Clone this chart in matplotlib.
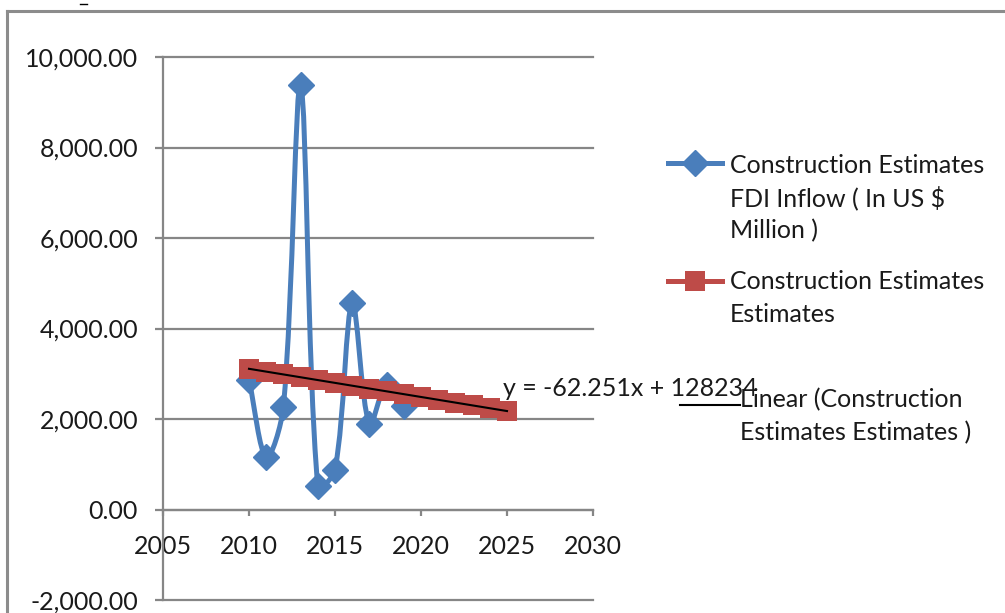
import numpy as np
import matplotlib.pyplot as plt
from matplotlib.path import Path
from matplotlib.patches import PathPatch
from matplotlib.lines import Line2D

plt.rcParams['font.family'] = ['Lato', 'DejaVu Sans']

# FDI inflow series (US $ million)
fdi_years = [2010, 2011, 2012, 2013, 2014, 2015, 2016, 2017, 2018, 2019]
fdi_inflow = [2870, 1150, 2270, 9380, 510, 880, 4560, 1880, 2750, 2280]

# estimate series
est_years = [2010, 2011, 2012, 2013, 2014, 2015, 2016, 2017,
             2018, 2019, 2020, 2021, 2022, 2023, 2024, 2025]
estimates = [3109.49, 3047.24, 2984.99, 2922.74, 2860.49, 2798.24, 2735.99, 2673.74,
             2611.49, 2549.24, 2486.99, 2424.74, 2362.49, 2300.24, 2237.99, 2175.74]

# linear trend
trend_slope = -62.251
trend_intercept = 128234
trend_label = 'y = -62.251x + 128234'

x_ticks = [2005, 2010, 2015, 2020, 2025, 2030]
y_ticks = [-2000, 0, 2000, 4000, 6000, 8000, 10000]

fdi_label = ['Construction Estimates', 'FDI Inflow ( In US $', 'Million )']
est_label = ['Construction Estimates', 'Estimates']
trend_legend = ['Linear (Construction', 'Estimates Estimates )']

BLUE = '#4A7EBB'
RED = '#BE4B48'
GRID = '#868686'
TEXT = '#1a1a1a'
FS = 18

W, H = 1005, 613


def fx(px):
    return px / W


def fy(py):
    return 1 - py / H


def smooth_path(ax, xs, ys):
    # bezier smoothing, control arms scaled by neighbouring segment lengths on screen
    pts = ax.transData.transform(np.column_stack([xs, ys]).astype(float))
    n = len(pts)
    verts = [pts[0]]
    codes = [Path.MOVETO]
    for i in range(n - 1):
        p_prev = pts[max(i - 1, 0)]
        p0, p1 = pts[i], pts[i + 1]
        p_next = pts[min(i + 2, n - 1)]
        d_a = np.hypot(*(p0 - p_prev))
        d_b = np.hypot(*(p1 - p0))
        d_c = np.hypot(*(p_next - p1))
        c1 = p0 + (p1 - p_prev) * (d_b / (d_a + d_b) if d_a + d_b else 0) / 3
        c2 = p1 - (p_next - p0) * (d_b / (d_b + d_c) if d_b + d_c else 0) / 3
        verts += [c1, c2, p1]
        codes += [Path.CURVE4] * 3
    verts = ax.transData.inverted().transform(np.array(verts))
    return Path(verts, codes)


fig = plt.figure(figsize=(10.05, 6.13), dpi=100)

# outer chart frame
fig.add_artist(Line2D([fx(7), fx(7)], [fy(11), fy(613)], color='#8c8c8c', lw=2.2))
fig.add_artist(Line2D([fx(7), fx(1005)], [fy(11), fy(11)], color='#8c8c8c', lw=2.2))
fig.add_artist(Line2D([fx(80), fx(87)], [fy(4), fy(4)], color='black', lw=1))

ax = fig.add_axes([fx(163), fy(600), (593 - 163) / W, (600 - 57) / H])
ax.set_xlim(2005, 2030)
ax.set_ylim(-2000, 10000)

ax.set_yticks(y_ticks)
ax.set_yticklabels(['{:,.2f}'.format(v) for v in y_ticks])
ax.set_xticks(x_ticks)
ax.set_xticklabels([str(v) for v in x_ticks])

ax.grid(axis='y', color=GRID, lw=1.6)
ax.set_axisbelow(True)
for gl in ax.get_ygridlines():
    gl.set_clip_on(False)

for s in ['top', 'right']:
    ax.spines[s].set_visible(False)
ax.spines['bottom'].set_position(('data', 0))
ax.spines['bottom'].set_color(GRID)
ax.spines['bottom'].set_linewidth(1.6)
ax.spines['left'].set_color(GRID)
ax.spines['left'].set_linewidth(1.6)

ax.tick_params(axis='y', direction='out', length=6, width=1.6, color=GRID,
               pad=12, labelsize=FS, labelcolor=TEXT)
ax.tick_params(axis='x', direction='out', length=4.5, width=1.6, color=GRID,
               pad=14, labelsize=FS, labelcolor=TEXT)

# FDI inflow: smoothed line with diamond markers
ax.add_patch(PathPatch(smooth_path(ax, fdi_years, fdi_inflow), fill=False,
                       edgecolor=BLUE, lw=3.6, zorder=3))
ax.plot(fdi_years, fdi_inflow, ls='none', marker='D', ms=13, color=BLUE, zorder=3)

# estimates
ax.plot(est_years, estimates, color=RED, lw=3.6, marker='s', ms=15,
        markeredgewidth=0, zorder=4)

# trend line
tx = np.array([est_years[0], est_years[-1]])
ax.plot(tx, trend_slope * tx + trend_intercept, color='black', lw=1.5, zorder=5)
fig.text(fx(503), fy(388), trend_label, fontsize=FS, color=TEXT, va='center')

# legend
fig.add_artist(Line2D([fx(668), fx(695), fx(722)], [fy(163)] * 3, color=BLUE, lw=3.6,
                      marker='D', ms=13, markevery=[1]))
fig.add_artist(Line2D([fx(668), fx(695), fx(722)], [fy(281)] * 3, color=RED, lw=3.6,
                      marker='s', ms=15, markeredgewidth=0, markevery=[1]))
fig.add_artist(Line2D([fx(680), fx(740)], [fy(405)] * 2, color='black', lw=1.5))

for lines, x0, y0 in [(fdi_label, 730, 165), (est_label, 730, 281), (trend_legend, 740, 400)]:
    for k, t in enumerate(lines):
        fig.text(fx(x0), fy(y0 + k * 33), t, fontsize=FS, color=TEXT, va='center')

fig.savefig('out.png', dpi=100)
